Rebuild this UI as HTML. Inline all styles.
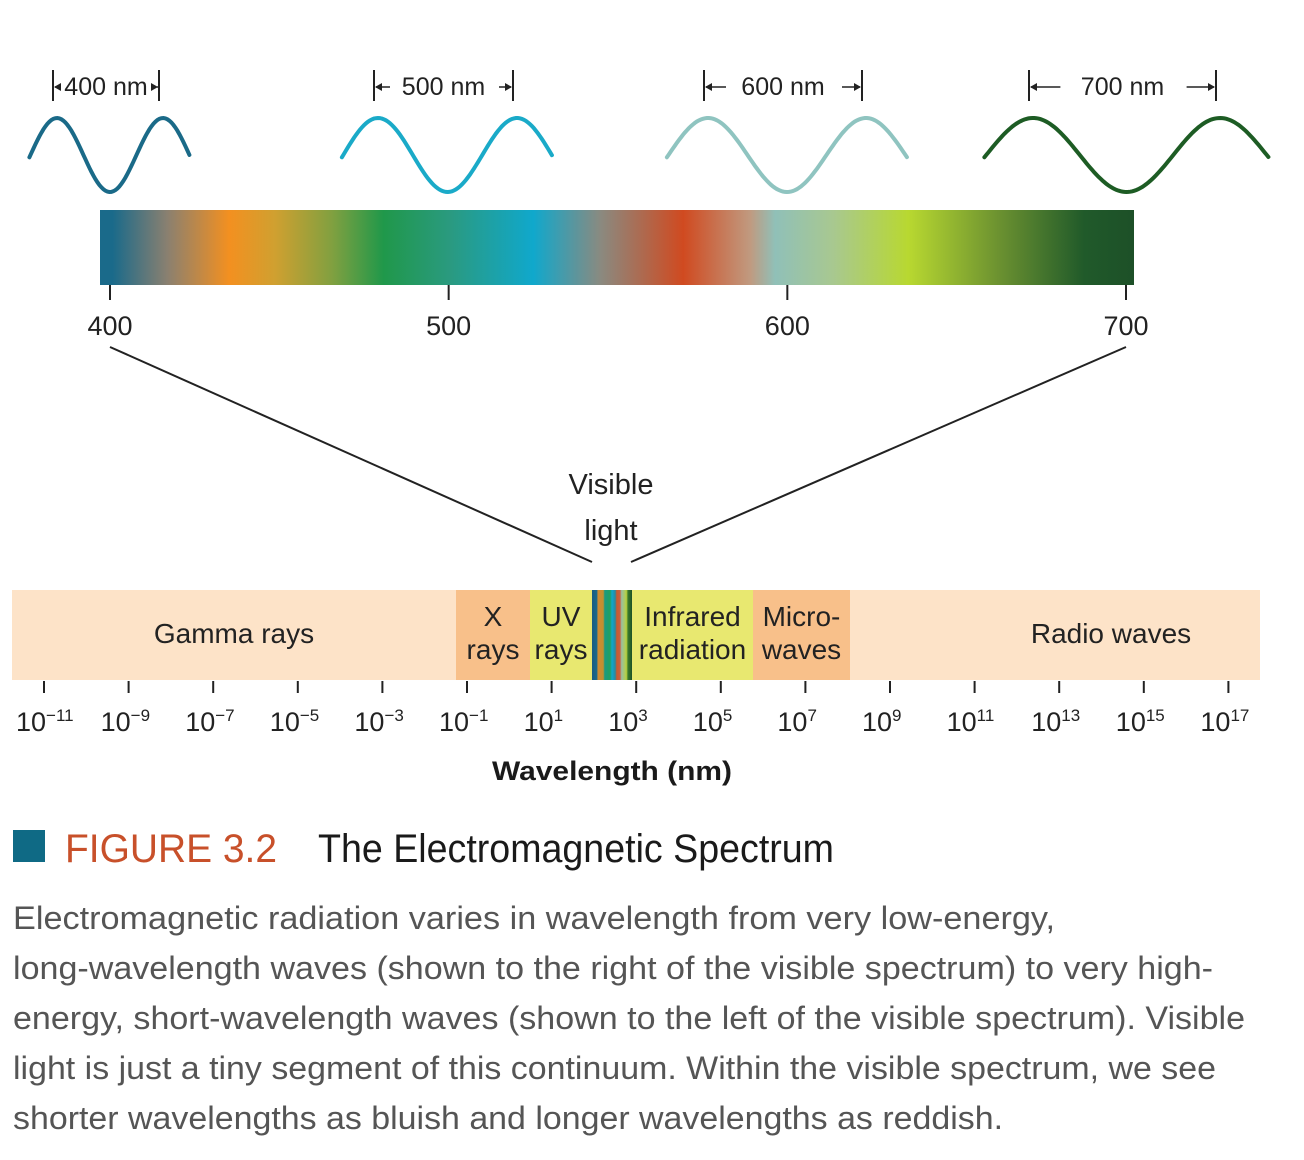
<!DOCTYPE html>
<html><head><meta charset="utf-8"><style>
html,body{margin:0;padding:0;background:#fff;}
svg{display:block;font-family:"Liberation Sans",sans-serif;}
</style></head><body>
<svg id="fig" width="1304" height="1160" viewBox="0 0 1304 1160" xmlns="http://www.w3.org/2000/svg">
<defs>
<linearGradient id="vis" x1="0" x2="1" y1="0" y2="0">
<stop offset="0" stop-color="#1a6a8a"/><stop offset="0.012" stop-color="#1a6a8a"/>
<stop offset="0.065" stop-color="#8a8070"/><stop offset="0.125" stop-color="#f39020"/>
<stop offset="0.169" stop-color="#d0a030"/><stop offset="0.225" stop-color="#80a040"/>
<stop offset="0.274" stop-color="#20984a"/><stop offset="0.339" stop-color="#2a9a80"/>
<stop offset="0.419" stop-color="#10a8cc"/><stop offset="0.484" stop-color="#8a8a80"/>
<stop offset="0.564" stop-color="#d04a20"/><stop offset="0.629" stop-color="#c09a80"/>
<stop offset="0.653" stop-color="#90c0b8"/><stop offset="0.709" stop-color="#a8c890"/>
<stop offset="0.782" stop-color="#b8d830"/><stop offset="0.871" stop-color="#6a9030"/>
<stop offset="0.952" stop-color="#205a2a"/><stop offset="1" stop-color="#1d5028"/>
</linearGradient>
<linearGradient id="strip" x1="0" x2="1" y1="0" y2="0">
<stop offset="0" stop-color="#1a5a80"/><stop offset="0.12" stop-color="#1a6a8a"/>
<stop offset="0.15" stop-color="#d08a30"/><stop offset="0.28" stop-color="#c09030"/>
<stop offset="0.32" stop-color="#1a9a80"/><stop offset="0.45" stop-color="#20a060"/>
<stop offset="0.5" stop-color="#10a8cc"/><stop offset="0.58" stop-color="#2a8aa0"/>
<stop offset="0.62" stop-color="#c85a30"/><stop offset="0.7" stop-color="#c86040"/>
<stop offset="0.74" stop-color="#98c0a0"/><stop offset="0.86" stop-color="#b8d040"/>
<stop offset="0.9" stop-color="#3a7a2a"/><stop offset="1" stop-color="#1d5028"/>
</linearGradient>
</defs>
<g id="waves"></g>
<rect x="100" y="210" width="1034" height="75" fill="url(#vis)"/>
<g id="visticks"></g>
<line x1="110" y1="347" x2="592" y2="562" stroke="#222" stroke-width="2"/>
<line x1="1126" y1="347" x2="631" y2="562" stroke="#222" stroke-width="2"/>
<text x="611" y="494" font-size="29" text-anchor="middle" fill="#222">Visible</text>
<text x="611" y="540" font-size="29" text-anchor="middle" fill="#222">light</text>
<g id="bands"></g>
<g id="ticks"></g>
<text x="612" y="780" font-size="27" font-weight="bold" text-anchor="middle" fill="#1a1a1a" textLength="240" lengthAdjust="spacingAndGlyphs">Wavelength (nm)</text>
<rect x="13" y="830" width="32" height="32" fill="#0f6a85"/>
<text x="65" y="862" font-size="40" fill="#c8502a" textLength="212" lengthAdjust="spacingAndGlyphs">FIGURE 3.2</text>
<text x="318" y="862" font-size="40" fill="#1a1a1a" textLength="516" lengthAdjust="spacingAndGlyphs">The Electromagnetic Spectrum</text>
<g font-size="32" fill="#555">
<text x="13" y="929" textLength="1042" lengthAdjust="spacingAndGlyphs">Electromagnetic radiation varies in wavelength from very low-energy,</text>
<text x="13" y="979" textLength="1200" lengthAdjust="spacingAndGlyphs">long-wavelength waves (shown to the right of the visible spectrum) to very high-</text>
<text x="13" y="1029" textLength="1232" lengthAdjust="spacingAndGlyphs">energy, short-wavelength waves (shown to the left of the visible spectrum). Visible</text>
<text x="13" y="1079" textLength="1203" lengthAdjust="spacingAndGlyphs">light is just a tiny segment of this continuum. Within the visible spectrum, we see</text>
<text x="13" y="1129" textLength="990" lengthAdjust="spacingAndGlyphs">shorter wavelengths as bluish and longer wavelengths as reddish.</text>
</g>
</svg>
<script>
const NS="http://www.w3.org/2000/svg";
const waveLabels=["400 nm","500 nm","600 nm","700 nm"];
const wavePeak1=[57,378,708,1033];
const wavePeak2=[163,517,866,1220];
const waveColors=["#1a6a88","#1aaac8","#8fc4c0","#1d5c24"];
const visTickLabels=["400","500","600","700"];
const visTickVals=[400,500,600,700];
const bandNames=[["Gamma rays"],["X","rays"],["UV","rays"],[],["Infrared","radiation"],["Micro-","waves"],["Radio waves"]];
const bandStart=[-11.75,-1.25,0.5,1.95,2.9,5.75,8.05];
const bandEnd=[-1.25,0.5,1.95,2.9,5.75,8.05,17.75];
const bandFill=["#fde3c8","#f8c08a","#e8e870",null,"#e8e870","#f8c08a","#fde3c8"];
const tickExps=[-11,-9,-7,-5,-3,-1,1,3,5,7,9,11,13,15,17];
const xLog=e=>44+(e+11)*42.3;
const xVis=v=>110+(v-400)*(1126-110)/300;
function el(t,a,p){const e=document.createElementNS(NS,t);for(const k in a)e.setAttribute(k,a[k]);p.appendChild(e);return e;}
const W=document.getElementById("waves");
waveLabels.forEach((lab,i)=>{
  const p1=wavePeak1[i],p2=wavePeak2[i],P=p2-p1,cy=155,A=37;
  let d="";
  const ext=0.26*P;
  for(let x=p1-ext;x<=p2+ext;x+=2){const y=cy-A*Math.cos(2*Math.PI*(x-p1)/P);d+=(d?"L":"M")+x.toFixed(1)+" "+y.toFixed(1);}
  const path=el("path",{d:d,fill:"none",stroke:waveColors[i],"stroke-width":4,"stroke-linecap":"round"},W);
  
  const g=el("g",{},W);
  
  
  el("line",{x1:p1-4,y1:70,x2:p1-4,y2:101,stroke:"#222","stroke-width":2},g);
  el("line",{x1:p2-4,y1:70,x2:p2-4,y2:101,stroke:"#222","stroke-width":2},g);
  const t=el("text",{x:(p1+p2)/2-4,y:95,"font-size":25,"text-anchor":"middle",fill:"#222"},g);
  t.textContent=lab;
  const inner=i==0?8:i==1?22:i==2?28:(P*0.2);
  el("line",{x1:p1-2,y1:87,x2:p1+inner-10+ (i==0?2:0),y2:87,stroke:"#222","stroke-width":1.5},g);
  el("path",{d:`M${p1-3} 87 l7 -4 l0 8 z`,fill:"#222"},g);
  el("line",{x1:p2-6,y1:87,x2:p2-inner+4,y2:87,stroke:"#222","stroke-width":1.5},g);
  el("path",{d:`M${p2-5} 87 l-7 -4 l0 8 z`,fill:"#222"},g);
});
const VT=document.getElementById("visticks");
visTickVals.forEach((v,i)=>{
  const x=xVis(v);
  el("line",{x1:x,y1:285,x2:x,y2:300,stroke:"#222","stroke-width":2},VT);
  const t=el("text",{x:x,y:335,"font-size":27,"text-anchor":"middle",fill:"#222"},VT);
  
  
  t.textContent=visTickLabels[i];
});
const B=document.getElementById("bands");
bandNames.forEach((nm,i)=>{
  const x0=Math.round(xLog(bandStart[i])),x1=Math.round(xLog(bandEnd[i]));
  const r=el("rect",{x:x0,y:590,width:x1-x0,height:90,fill:bandFill[i]||"url(#strip)"},B);
  
  
  const cx=i==6?1111:(x0+x1)/2;
  nm.forEach((ln,j)=>{
    const y=nm.length==1?643:626+j*33;
    const t=el("text",{x:cx,y:y,"font-size":28,"text-anchor":"middle",fill:"#222"},B);
    
    
    t.textContent=ln;
  });
});
const T=document.getElementById("ticks");
tickExps.forEach(e=>{
  const x=xLog(e);
  el("line",{x1:x,y1:681,x2:x,y2:693,stroke:"#222","stroke-width":2},T);
  const t=el("text",{x:x-28,y:731,"font-size":27,fill:"#222"},T);
  
  
  t.textContent="10";
  const s=el("tspan",{dy:-10,"font-size":17},t);
  s.textContent=(e<0?"\u2212":"")+Math.abs(e);
});
</script>
</body></html>
